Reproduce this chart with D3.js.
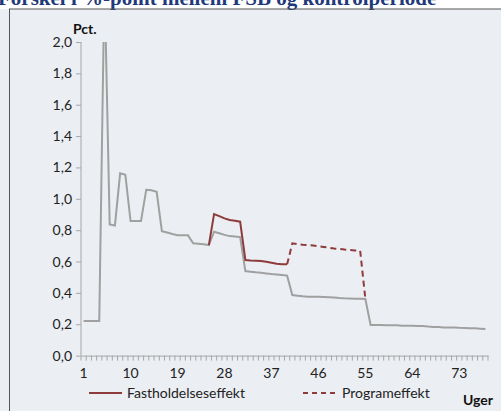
<!DOCTYPE html>
<html><head><meta charset="utf-8">
<script src="https://cdn.jsdelivr.net/npm/d3@7"></script>
<style>
html,body{margin:0;padding:0;background:#fff;}
svg{display:block;}
</style></head>
<body>
<svg id="c" width="501" height="411"></svg>
<script>
const weeks = d3.range(1, 79);
const grayValues = [0.22,0.22,0.22,0.22,2.4,0.837,0.83,1.162,1.153,0.858,0.858,0.858,1.058,1.055,1.045,0.794,0.785,0.775,0.768,0.768,0.767,0.716,0.714,0.71,0.705,0.79,0.78,0.77,0.762,0.759,0.756,0.539,0.535,0.531,0.528,0.524,0.52,0.517,0.514,0.51,0.386,0.382,0.378,0.376,0.375,0.375,0.374,0.372,0.37,0.367,0.365,0.364,0.363,0.362,0.361,0.195,0.195,0.195,0.194,0.194,0.193,0.19,0.19,0.19,0.189,0.188,0.185,0.183,0.182,0.18,0.18,0.179,0.177,0.176,0.175,0.174,0.172,0.17];
const fastWeeks = d3.range(25, 41);
const fastValues = [0.705,0.903,0.89,0.875,0.865,0.86,0.854,0.61,0.607,0.605,0.603,0.598,0.592,0.586,0.582,0.582];
const progWeeks = d3.range(40, 56);
const progValues = [0.582,0.716,0.71,0.707,0.705,0.702,0.698,0.693,0.688,0.683,0.68,0.676,0.673,0.671,0.669,0.361];
const yTicks = [0,0.2,0.4,0.6,0.8,1.0,1.2,1.4,1.6,1.8,2.0];
const xLabels = [1,10,19,28,37,46,55,64,73];
const seriesNames = ["Fastholdelseseffekt","Programeffekt"];
const titleText = "Forskel i %-point mellem FSB og kontrolperiode";

const svg = d3.select("#c");
const font = "Lato, 'Open Sans', sans-serif";
svg.append("rect").attr("x",0).attr("y",9).attr("width",501).attr("height",402).attr("fill","#EBEEF2");
svg.append("text").attr("x",-2).attr("y",5).attr("font-family","'Liberation Serif', serif").attr("font-weight","bold")
  .attr("font-size",21).attr("fill","#1F3A7A").text(titleText);
svg.append("line").attr("x1",9).attr("x2",501).attr("y1",9).attr("y2",9).attr("stroke","#555").attr("stroke-width",1);
svg.append("line").attr("x1",9.5).attr("x2",9.5).attr("y1",9).attr("y2",411).attr("stroke","#555").attr("stroke-width",1);

const L=81, R=488, T=42, B=355.6;
const x = d3.scaleBand().domain(weeks).range([L,R]);
const cx = d => x(d) + x.bandwidth()/2;
const y = d3.scaleLinear().domain([0,2]).range([B,T]);

svg.append("defs").append("clipPath").attr("id","clip").append("rect")
  .attr("x",L).attr("y",T).attr("width",R-L).attr("height",B-T);

// y axis
const ya = svg.append("g").attr("transform",`translate(${L},0)`)
  .call(d3.axisLeft(y).tickValues(yTicks).tickSize(5).tickPadding(4).tickFormat(d=>d3.format(".1f")(d).replace(".",",")));
ya.selectAll("path,line").attr("stroke","#A6A6A6");
ya.select(".domain").attr("d",`M0,${T}V${B}`);
ya.selectAll("text").attr("font-family",font).attr("font-size",14).attr("fill","#222");

// x axis
const xa = svg.append("g").attr("transform",`translate(0,${B})`)
  .call(d3.axisBottom(x).tickValues(xLabels).tickSize(0).tickPadding(12));
xa.select(".domain").attr("stroke","#A6A6A6");
xa.selectAll("text").attr("font-family",font).attr("font-size",14).attr("fill","#222");
svg.append("g").selectAll("line").data(weeks.concat([79])).join("line")
  .attr("x1",d=>d<=78?x(d):R).attr("x2",d=>d<=78?x(d):R)
  .attr("y1",B).attr("y2",B+5).attr("stroke","#A6A6A6");

const plot = svg.append("g").attr("clip-path","url(#clip)");
const line = d3.line().x(d=>cx(d[0])).y(d=>y(d[1]));
plot.append("path").datum(d3.zip(weeks,grayValues)).attr("d",line)
  .attr("fill","none").attr("stroke","#A0A0A0").attr("stroke-width",2);
plot.append("path").datum(d3.zip(fastWeeks,fastValues)).attr("d",line)
  .attr("fill","none").attr("stroke","#8E3B3B").attr("stroke-width",2);
plot.append("path").datum(d3.zip(progWeeks,progValues)).attr("d",line)
  .attr("fill","none").attr("stroke","#8E3B3B").attr("stroke-width",2).attr("stroke-dasharray","6,4");

svg.append("text").attr("x",73).attr("y",34).attr("font-family",font).attr("font-weight","bold")
  .attr("font-size",14).attr("fill","#111").text("Pct.");
svg.append("text").attr("x",463).attr("y",405).attr("font-family",font).attr("font-weight","bold")
  .attr("font-size",14).attr("fill","#111").text("Uger");

// legend
const lg = [{x1:89,x2:122,tx:127,dash:null},{x1:303,x2:335,tx:342,dash:"5,4"}];
lg.forEach((l,i)=>{
  svg.append("line").attr("x1",l.x1).attr("x2",l.x2).attr("y1",393).attr("y2",393)
    .attr("stroke","#8E3B3B").attr("stroke-width",2).attr("stroke-dasharray",l.dash);
  svg.append("text").attr("x",l.tx).attr("y",398).attr("font-family",font).attr("font-size",14)
    .attr("fill","#222").text(seriesNames[i]);
});
</script>
</body></html>
